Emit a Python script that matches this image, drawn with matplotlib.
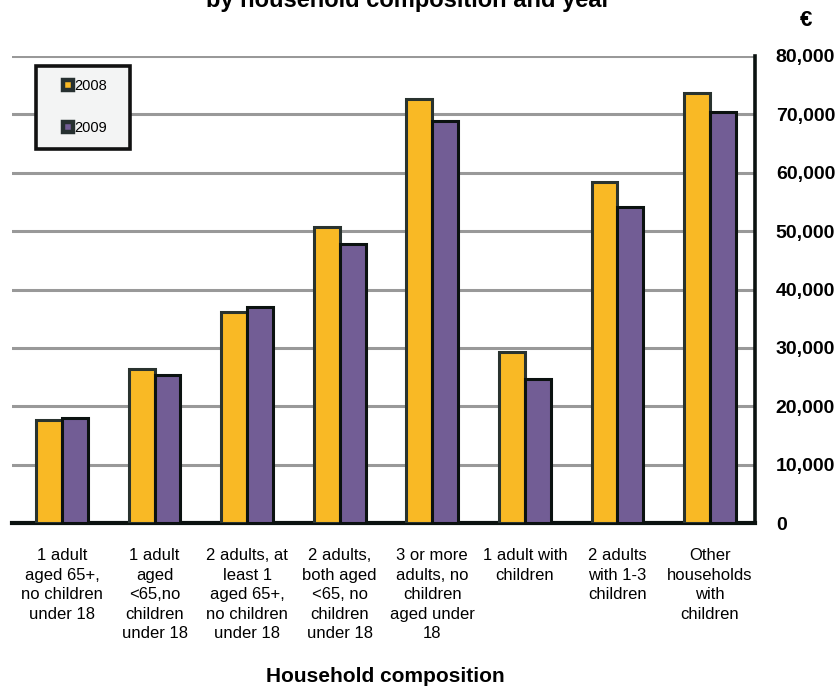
import matplotlib.pyplot as plt
from matplotlib.lines import Line2D
from matplotlib.patches import Rectangle
import numpy as np

plt.rcParams['font.family'] = ['Liberation Sans', 'DejaVu Sans']

categories = [
    "1 adult\naged 65+,\nno children\nunder 18",
    "1 adult\naged\n<65,no\nchildren\nunder 18",
    "2 adults, at\nleast 1\naged 65+,\nno children\nunder 18",
    "2 adults,\nboth aged\n<65, no\nchildren\nunder 18",
    "3 or more\nadults, no\nchildren\naged under\n18",
    "1 adult with\nchildren",
    "2 adults\nwith 1-3\nchildren",
    "Other\nhouseholds\nwith\nchildren",
]
income_2008 = [17700, 26400, 36100, 50700, 72700, 29300, 58400, 73700]
income_2009 = [18000, 25400, 37000, 47800, 68800, 24700, 54200, 70400]
yticks = [0, 10000, 20000, 30000, 40000, 50000, 60000, 70000, 80000]

c08 = '#F9B925'
c09 = '#725D95'

W, H = 840, 686
fig = plt.figure(figsize=(W / 100, H / 100), dpi=100)
ax = fig.add_axes([12 / W, 1 - 523 / H, (755 - 12) / W, (523 - 56) / H])

x = np.arange(len(categories))
bw = 0.28
ax.bar(x - bw / 2, income_2008, bw, color=c08, edgecolor='#29332F',
       linewidth=2.2, zorder=3)
ax.bar(x + bw / 2, income_2009, bw, color=c09, edgecolor='#0B1210',
       linewidth=2.2, zorder=3)

ax.set_xlim(-0.54, 7.486)
ax.set_ylim(0, 80000)
ax.set_yticks(yticks)
ax.set_yticklabels(['{:,}'.format(v) for v in yticks],
                   fontweight='bold', fontsize=14)
ax.yaxis.tick_right()
ax.tick_params(axis='y', length=0, pad=15)
ax.set_xticks(x)
ax.set_xticklabels(categories, fontsize=12, linespacing=1.38)
ax.tick_params(axis='x', length=0, pad=18)

ax.yaxis.grid(True, color='#999999', linewidth=2.2, zorder=0)
ax.set_axisbelow(True)
for s in ['top', 'left']:
    ax.spines[s].set_visible(False)
ax.spines['bottom'].set_color('#0B1210')
ax.spines['bottom'].set_linewidth(3)
ax.spines['right'].set_color('#0B1210')
ax.spines['right'].set_linewidth(2.6)

# legend box with a heavy frame
fig.patches.append(Rectangle((36 / W, 1 - 149 / H), 94 / W, 83 / H,
                             transform=fig.transFigure, facecolor='#F3F4F4',
                             edgecolor='#111111', linewidth=2.6, zorder=5))
handles = [
    Line2D([], [], linestyle='none', marker='s', markersize=7,
           markerfacecolor=c08, markeredgecolor='#263030', markeredgewidth=3.2),
    Line2D([], [], linestyle='none', marker='s', markersize=7,
           markerfacecolor=c09, markeredgecolor='#263030', markeredgewidth=3.2),
]
leg = fig.legend(handles, ['2008', '2009'], loc='upper left',
                 bbox_to_anchor=(62 / W, 1 - 79 / H), frameon=False,
                 fontsize=10.5, handlelength=0.8, handletextpad=0.05,
                 labelspacing=1.95, borderpad=0, borderaxespad=0)
leg.set_zorder(6)

fig.text(408 / W, 1 - 7 / H, 'by household composition and year',
         ha='center', va='baseline', fontsize=17, fontweight='bold')
fig.text(806 / W, 1 - 21 / H, '€', ha='center', va='center',
         fontsize=16, fontweight='bold')
fig.text(385 / W, 1 - 676 / H, 'Household composition', ha='center',
         va='center', fontsize=15, fontweight='bold')

fig.savefig('out.png', dpi=100, facecolor='white')
